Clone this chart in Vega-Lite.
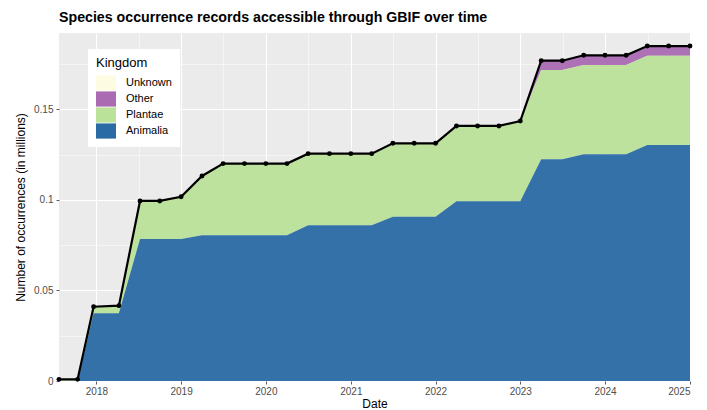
{
  "$schema": "https://vega.github.io/schema/vega-lite/v6.json",
  "width": 631,
  "height": 348,
  "autosize": {"type": "none"},
  "padding": {"left": 59, "top": 33, "right": 17, "bottom": 29},
  "background": "white",
  "title": {
    "text": "Species occurrence records accessible through GBIF over time",
    "anchor": "start",
    "frame": "group",
    "baseline": "alphabetic",
    "offset": 10,
    "dy": 13,
    "fontSize": 14.2,
    "fontWeight": "bold",
    "color": "black"
  },
  "data": {
    "values": [
      {"date": "2017-07-24", "Animalia": 0, "Plantae": 0.0009, "Other": 0, "Unknown": 0},
      {"date": "2017-10-12", "Animalia": 0, "Plantae": 0.0009, "Other": 0, "Unknown": 0},
      {"date": "2017-12-20", "Animalia": 0.0374, "Plantae": 0.0036, "Other": 0, "Unknown": 0},
      {"date": "2018-04-08", "Animalia": 0.0374, "Plantae": 0.0042, "Other": 0, "Unknown": 0},
      {"date": "2018-07-08", "Animalia": 0.0784, "Plantae": 0.0210, "Other": 0, "Unknown": 0},
      {"date": "2018-10-01", "Animalia": 0.0784, "Plantae": 0.0210, "Other": 0, "Unknown": 0},
      {"date": "2019-01-01", "Animalia": 0.0784, "Plantae": 0.0233, "Other": 0, "Unknown": 0},
      {"date": "2019-04-01", "Animalia": 0.0804, "Plantae": 0.0328, "Other": 0, "Unknown": 0},
      {"date": "2019-07-01", "Animalia": 0.0804, "Plantae": 0.0396, "Other": 0, "Unknown": 0},
      {"date": "2019-10-01", "Animalia": 0.0804, "Plantae": 0.0396, "Other": 0, "Unknown": 0},
      {"date": "2020-01-01", "Animalia": 0.0804, "Plantae": 0.0396, "Other": 0, "Unknown": 0},
      {"date": "2020-04-01", "Animalia": 0.0804, "Plantae": 0.0396, "Other": 0, "Unknown": 0},
      {"date": "2020-07-01", "Animalia": 0.0860, "Plantae": 0.0395, "Other": 0, "Unknown": 0},
      {"date": "2020-10-01", "Animalia": 0.0860, "Plantae": 0.0395, "Other": 0, "Unknown": 0},
      {"date": "2021-01-01", "Animalia": 0.0860, "Plantae": 0.0395, "Other": 0, "Unknown": 0},
      {"date": "2021-04-01", "Animalia": 0.0860, "Plantae": 0.0395, "Other": 0, "Unknown": 0},
      {"date": "2021-07-01", "Animalia": 0.0907, "Plantae": 0.0405, "Other": 0, "Unknown": 0},
      {"date": "2021-10-01", "Animalia": 0.0907, "Plantae": 0.0405, "Other": 0, "Unknown": 0},
      {"date": "2022-01-01", "Animalia": 0.0907, "Plantae": 0.0405, "Other": 0, "Unknown": 0},
      {"date": "2022-04-01", "Animalia": 0.0992, "Plantae": 0.0416, "Other": 0, "Unknown": 0},
      {"date": "2022-07-01", "Animalia": 0.0992, "Plantae": 0.0416, "Other": 0, "Unknown": 0},
      {"date": "2022-10-01", "Animalia": 0.0992, "Plantae": 0.0416, "Other": 0, "Unknown": 0},
      {"date": "2023-01-01", "Animalia": 0.0992, "Plantae": 0.0443, "Other": 0, "Unknown": 0},
      {"date": "2023-04-01", "Animalia": 0.1224, "Plantae": 0.0493, "Other": 0.0051, "Unknown": 0},
      {"date": "2023-07-01", "Animalia": 0.1224, "Plantae": 0.0493, "Other": 0.0051, "Unknown": 0},
      {"date": "2023-10-01", "Animalia": 0.1252, "Plantae": 0.0493, "Other": 0.0053, "Unknown": 0},
      {"date": "2024-01-01", "Animalia": 0.1252, "Plantae": 0.0493, "Other": 0.0053, "Unknown": 0},
      {"date": "2024-04-01", "Animalia": 0.1252, "Plantae": 0.0493, "Other": 0.0053, "Unknown": 0},
      {"date": "2024-07-01", "Animalia": 0.1303, "Plantae": 0.0493, "Other": 0.0053, "Unknown": 0},
      {"date": "2024-10-01", "Animalia": 0.1303, "Plantae": 0.0493, "Other": 0.0053, "Unknown": 0},
      {"date": "2025-01-01", "Animalia": 0.1303, "Plantae": 0.0493, "Other": 0.0053, "Unknown": 0}
    ]
  },
  "transform": [
    {"fold": ["Unknown", "Other", "Plantae", "Animalia"], "as": ["kingdom", "value"]},
    {"calculate": "indexof(['Animalia','Plantae','Other','Unknown'], datum.kingdom)", "as": "stackrank"}
  ],
  "encoding": {
    "x": {
      "field": "date",
      "type": "temporal",
      "scale": {
        "type": "utc",
        "nice": false,
        "domain": [
          {"year": 2017, "month": 7, "date": 24, "utc": true},
          {"year": 2025, "month": 1, "date": 1, "utc": true}
        ]
      },
      "axis": {
        "title": "Date",
        "values": [
          {"year": 2018, "month": 1, "date": 1, "utc": true},
          {"year": 2018, "month": 7, "date": 2, "utc": true},
          {"year": 2019, "month": 1, "date": 1, "utc": true},
          {"year": 2019, "month": 7, "date": 2, "utc": true},
          {"year": 2020, "month": 1, "date": 1, "utc": true},
          {"year": 2020, "month": 7, "date": 2, "utc": true},
          {"year": 2021, "month": 1, "date": 1, "utc": true},
          {"year": 2021, "month": 7, "date": 2, "utc": true},
          {"year": 2022, "month": 1, "date": 1, "utc": true},
          {"year": 2022, "month": 7, "date": 2, "utc": true},
          {"year": 2023, "month": 1, "date": 1, "utc": true},
          {"year": 2023, "month": 7, "date": 2, "utc": true},
          {"year": 2024, "month": 1, "date": 1, "utc": true},
          {"year": 2024, "month": 7, "date": 2, "utc": true},
          {"year": 2025, "month": 1, "date": 1, "utc": true}
        ],
        "labelExpr": "utcmonth(datum.value) === 0 ? utcFormat(datum.value, '%Y') : ''",
        "gridWidth": {"condition": {"test": "utcmonth(datum.value) === 0", "value": 1.1}, "value": 0.5},
        "tickColor": {"condition": {"test": "utcmonth(datum.value) === 0", "value": "#333333"}, "value": "transparent"},
        "labelPadding": 2,
        "titlePadding": 2
      }
    }
  },
  "layer": [
    {
      "mark": {"type": "area", "interpolate": "linear", "opacity": 0.95},
      "encoding": {
        "y": {
          "field": "value",
          "type": "quantitative",
          "stack": "zero",
          "scale": {"domain": [0, 0.1921], "nice": false, "zero": true},
          "axis": {
            "title": "Number of occurrences (in millions)",
            "values": [0, 0.025, 0.05, 0.075, 0.1, 0.125, 0.15, 0.175],
            "format": "~g",
            "labelExpr": "round(datum.value * 1000) % 50 === 0 ? datum.label : ''",
            "gridWidth": {"condition": {"test": "round(datum.value * 1000) % 50 === 0", "value": 1.1}, "value": 0.5},
            "tickColor": {"condition": {"test": "round(datum.value * 1000) % 50 === 0", "value": "#333333"}, "value": "transparent"},
            "labelPadding": 3,
            "titlePadding": 6
          }
        },
        "color": {
          "field": "kingdom",
          "type": "nominal",
          "scale": {
            "domain": ["Unknown", "Other", "Plantae", "Animalia"],
            "range": ["#fdfbe2", "#aa6bb2", "#bbe299", "#2a6aa5"]
          },
          "legend": {
            "title": "Kingdom",
            "orient": "none",
            "legendX": 29,
            "legendY": 16,
            "fillColor": "white",
            "padding": 8,
            "titleFontSize": 13,
            "titleFontWeight": "normal",
            "titleColor": "black",
            "titlePadding": 5,
            "labelFontSize": 11,
            "labelColor": "black",
            "symbolType": "M-1.25,-0.95H1.25V0.95H-1.25Z",
            "symbolSize": 256,
            "symbolStrokeWidth": 0,
            "symbolOpacity": 1,
            "symbolOffset": 2,
            "rowPadding": 0,
            "labelOffset": 12
          }
        },
        "order": {"field": "stackrank", "type": "quantitative"}
      }
    },
    {
      "mark": {"type": "line", "color": "black", "strokeWidth": 2.2},
      "encoding": {
        "y": {"aggregate": "sum", "field": "value", "type": "quantitative", "title": "Number of occurrences (in millions)"}
      }
    },
    {
      "mark": {"type": "point", "filled": true, "color": "black", "size": 24, "opacity": 1},
      "encoding": {
        "y": {"aggregate": "sum", "field": "value", "type": "quantitative", "title": "Number of occurrences (in millions)"}
      }
    }
  ],
  "config": {
    "font": "Liberation Sans",
    "view": {"fill": "#ebebeb", "stroke": null},
    "axis": {
      "domain": false,
      "gridColor": "white",
      "gridOpacity": 1,
      "tickSize": 3,
      "tickWidth": 0.8,
      "labelFontSize": 10,
      "labelColor": "#4d4d4d",
      "titleFontSize": 12,
      "titleFontWeight": "normal",
      "titleColor": "black"
    }
  }
}
